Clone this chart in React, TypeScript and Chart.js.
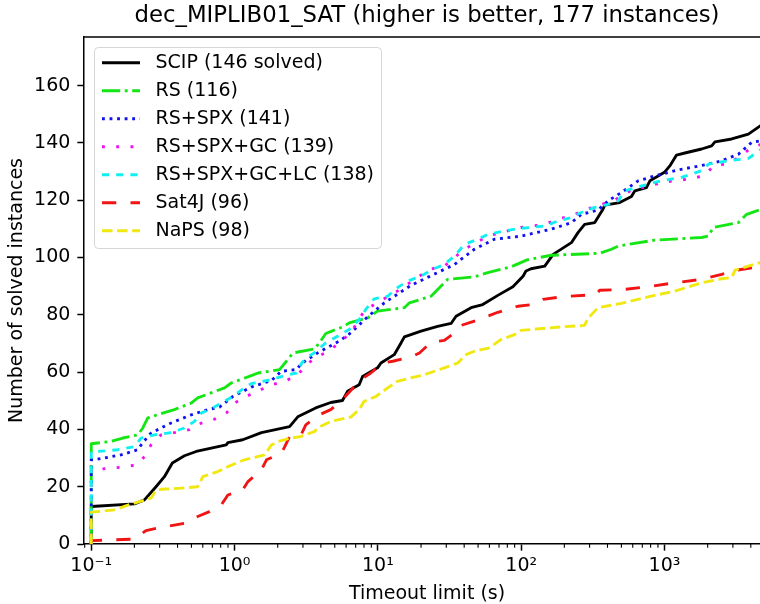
import React, { useEffect, useRef } from 'react';
import { Chart, registerables } from 'chart.js';

Chart.register(...registerables);

const TITLE = 'dec_MIPLIB01_SAT (higher is better, 177 instances)';
const X_LABEL = 'Timeout limit (s)';
const Y_LABEL = 'Number of solved instances';

const X_MIN = 0.089;
const X_MAX = 5445;
const Y_MIN = 0;
const Y_MAX = 177;
const Y_STEP = 20;

const X_MAJOR_TICKS = [0.1, 1, 10, 100, 1000];
const X_TICK_LABELS = ['10⁻¹', '10⁰', '10¹', '10²', '10³'];
const X_MINOR_TICKS = [
  0.09, 0.2, 0.3, 0.4, 0.5, 0.6, 0.7, 0.8, 0.9,
  2, 3, 4, 5, 6, 7, 8, 9,
  20, 30, 40, 50, 60, 70, 80, 90,
  200, 300, 400, 500, 600, 700, 800, 900,
  2000, 3000, 4000, 5000,
];

const SERIES_LABELS = [
  'SCIP (146 solved)',
  'RS (116)',
  'RS+SPX (141)',
  'RS+SPX+GC (139)',
  'RS+SPX+GC+LC (138)',
  'Sat4J (96)',
  'NaPS (98)',
];

// [time limit (s), solved instances]
const SCIP: [number, number][] = [
  [0.1, 0], [0.1, 13.1], [0.2, 14], [0.235, 15.4], [0.283, 20], [0.324, 23.5], [0.368, 28.3],
  [0.447, 30.8], [0.54, 32.3], [0.687, 33.5], [0.875, 34.6], [0.898, 35.4], [1.14, 36.4],
  [1.54, 38.9], [2.42, 41], [2.76, 44.4], [3.68, 47.5], [4.69, 49.4], [5.66, 50.1], [6.14, 53.3],
  [7.4, 55.6], [7.82, 58.5], [9.95, 61.5], [10.5, 63.2], [13, 66.1], [14.5, 70.2], [15.3, 72.3],
  [20, 74.3], [26.1, 76], [32.4, 77], [35.1, 79.5], [44.7, 82.5], [53.9, 83.6], [68.7, 86.8],
  [87.5, 89.8], [103, 93.5], [108, 95.3], [117, 96.1], [146, 97], [167, 101.1], [224, 105.2],
  [249, 108.7], [277, 111.6], [326, 112.2], [372, 116.9], [383, 118.3], [487, 119.2], [588, 121.3],
  [621, 123.3], [748, 124.4], [791, 126.8], [903, 128.5], [1005, 129.9], [1089, 132], [1213, 135.8],
  [1387, 136.5], [1815, 137.9], [2133, 139], [2249, 140.4], [2944, 141.4], [3847, 143.1], [4765, 146.3],
];

const RS: [number, number][] = [
  [0.1, 0], [0.1, 35], [0.137, 35.8], [0.166, 37], [0.211, 38.1], [0.229, 40.5], [0.248, 44],
  [0.315, 45.7], [0.38, 46.9], [0.498, 49.2], [0.553, 51], [0.851, 54.5], [0.948, 56.2], [1.31, 58.8],
  [1.46, 59.7], [2.06, 60.9], [2.3, 63.8], [2.56, 66.7], [3.63, 68.1], [4.0, 71], [4.33, 73.5],
  [5.81, 76], [6.3, 77.2], [8.47, 78.9], [9.95, 81.3], [15.3, 82.5], [16.6, 84.2], [23.5, 86.5],
  [25.5, 88.3], [30.7, 92.4], [47.1, 93.3], [58.5, 94.7], [85.1, 96.8], [110, 99.2], [162, 100.8],
  [353, 101.5], [426, 102.9], [474, 104], [856, 106.1], [1815, 107], [2023, 107.5], [2193, 110.5],
  [3281, 112.2], [3745, 115.1], [4765, 116.9],
];

const RS_SPX: [number, number][] = [
  [0.1, 0], [0.1, 29.4], [0.105, 29.4], [0.161, 31.1], [0.211, 32.9], [0.229, 35.4], [0.261, 38.7],
  [0.351, 42], [0.498, 45.1], [0.65, 46.9], [0.785, 47.8], [0.973, 51.5], [1.31, 54.8], [1.81, 57.1],
  [2.12, 60.3], [2.7, 60.9], [2.93, 63], [3.79, 66.7], [5.36, 70.8], [6.47, 73.7], [8.47, 79.3],
  [11.1, 84.2], [17, 90.3], [29.1, 95.9], [34.2, 97.6], [47.1, 102.9], [65, 106.4], [100, 107.5],
  [162, 109.9], [224, 112.2], [263, 115.1], [344, 116.6], [404, 119.8], [500, 122.7], [655, 126.8],
  [856, 128.5], [1247, 130.6], [2023, 132.6], [2506, 133.8], [3281, 136.1], [4055, 140.2], [4765, 140.8],
];

const RS_SPX_GC: [number, number][] = [
  [0.1, 0], [0.1, 25.9], [0.161, 26.8], [0.206, 27.6], [0.235, 30.5], [0.261, 34.6], [0.307, 38.1],
  [0.38, 38.9], [0.485, 39.9], [0.585, 42.2], [0.725, 43.6], [0.875, 45.7], [1.03, 49.6], [1.24, 51.8],
  [1.81, 55.6], [2.24, 56.8], [2.77, 59.1], [3.17, 62.6], [3.79, 65.5], [4.56, 67.3], [6.47, 73.7],
  [8.02, 81.3], [9.42, 83.6], [13.7, 88.3], [19.5, 93.5], [22.9, 95.9], [29.1, 97], [34.2, 100],
  [40.1, 102.9], [48.4, 105.2], [58.5, 107.5], [89.8, 109.9], [100, 110.5], [146, 111.6], [181, 113.4],
  [224, 114.6], [270, 116.3], [344, 118.3], [426, 119.4], [604, 123.9], [769, 124.8], [953, 126.2],
  [1180, 126.8], [1466, 127.4], [1866, 128.5], [2249, 132.3], [2716, 132.6], [3281, 134.9],
  [4055, 138.4], [4765, 139.6],
];

const RS_SPX_GC_LC: [number, number][] = [
  [0.1, 0], [0.1, 32.3], [0.111, 32.3], [0.153, 32.9], [0.2, 34], [0.223, 37], [0.276, 38.1],
  [0.361, 38.9], [0.447, 40.5], [0.525, 42.8], [0.585, 45.7], [0.705, 47.5], [0.851, 49.8],
  [0.973, 51.5], [1.17, 54.5], [1.31, 56], [1.81, 57.4], [2.24, 58.8], [2.7, 59.7], [2.93, 63],
  [3.17, 65], [3.59, 66.7], [4.33, 70.2], [5.22, 72.5], [6.3, 74.9], [7.4, 78.4], [8.24, 81.9],
  [9.42, 85.6], [11.7, 86.5], [13.7, 89.5], [16.1, 91.8], [20, 93.5], [24.1, 95.9], [29.1, 97.6],
  [34.2, 100.5], [40.1, 104.6], [49.8, 106.4], [58.5, 108.1], [76.4, 109.3], [94.8, 110.1],
  [146, 111], [181, 112.8], [224, 114], [277, 116.3], [326, 117.5], [404, 118.6], [474, 119.8],
  [528, 123.3], [691, 125], [953, 126.8], [1315, 128], [1815, 130.3], [2023, 132.6], [2791, 133.8],
  [3847, 134.6], [4765, 137.9],
];

const SAT4J: [number, number][] = [
  [0.1, 0], [0.1, 1.2], [0.2, 1.7], [0.241, 4.7], [0.307, 5.8], [0.447, 7.2], [0.553, 9.6],
  [0.668, 11.3], [0.807, 13.6], [0.898, 17.1], [1.14, 18.9], [1.24, 21.8], [1.54, 25.9], [1.67, 29.4],
  [2.12, 31.7], [2.24, 34], [2.42, 37.5], [2.89, 37.8], [3.14, 41.6], [3.89, 45.1], [4.69, 46.9],
  [5.66, 50.4], [7.6, 57.4], [8.93, 59.7], [10.8, 63.2], [12.7, 63.8], [17.5, 65.5], [19.5, 66.7],
  [23.5, 70.4], [29.1, 71.1], [34.2, 73.7], [38, 76.3], [52.5, 78.6], [68.7, 80.9], [94.8, 83],
  [121, 83.6], [142, 85.4], [191, 86.3], [334, 87.1], [353, 88.6], [528, 88.9], [769, 89.8],
  [1180, 91.2], [1815, 92.4], [2506, 94.1], [2944, 95.3], [4765, 97],
];

const NAPS: [number, number][] = [
  [0.1, 0], [0.1, 11.1], [0.145, 11.9], [0.18, 13.6], [0.223, 15], [0.261, 16], [0.283, 18.7],
  [0.307, 19.1], [0.424, 19.5], [0.553, 20], [0.6, 23.5], [0.764, 25.3], [0.898, 27], [1.17, 29.4],
  [1.62, 31.1], [1.81, 34.6], [2.01, 35.8], [2.49, 37], [2.89, 37.5], [3.63, 39.3], [3.79, 40.5],
  [4.69, 42.8], [6.47, 44.3], [7.4, 46.9], [8.02, 49.8], [9.68, 51.5], [11.7, 54.5], [13.7, 56.8],
  [16.1, 57.7], [21.1, 59.1], [29.1, 61.5], [36.1, 63.2], [41.2, 66.1], [47.1, 67.3], [60, 68.5],
  [72.4, 71.4], [89.8, 73.1], [100, 74.6], [191, 75.8], [277, 76.3], [293, 78.9], [344, 82.5],
  [500, 84], [769, 86.3], [1180, 88.3], [1815, 91.2], [2506, 92.6], [2944, 93], [3105, 95.6],
  [3847, 97], [4765, 98.4],
];

const SERIES = [SCIP, RS, RS_SPX, RS_SPX_GC, RS_SPX_GC_LC, SAT4J, NAPS];

const COLORS = ['#000000', '#14e614', '#1010f0', '#f010f0', '#10f0f0', '#f01414', '#f0e810'];
const DASHES: number[][] = [
  [],
  [18.2, 4.6, 2.85, 4.6],
  [2.85, 4.7],
  [2.85, 11.4],
  [7.1, 7.1],
  [14.25, 14.25],
  [10.5, 4.6],
];

const FONT = "'DejaVu Sans'";

function roundRectPath(ctx: CanvasRenderingContext2D, x: number, y: number, w: number, h: number, r: number) {
  ctx.beginPath();
  ctx.moveTo(x + r, y);
  ctx.arcTo(x + w, y, x + w, y + h, r);
  ctx.arcTo(x + w, y + h, x, y + h, r);
  ctx.arcTo(x, y + h, x, y, r);
  ctx.arcTo(x, y, x + w, y, r);
  ctx.closePath();
}

const framePlugin = {
  id: 'frameExtras',
  afterDraw(chart: any) {
    const ctx: CanvasRenderingContext2D = chart.ctx;
    const area = chart.chartArea;
    const xs = chart.scales.x;
    ctx.save();
    // top spine
    ctx.strokeStyle = '#000';
    ctx.lineWidth = 1.5;
    ctx.setLineDash([]);
    ctx.beginPath();
    ctx.moveTo(area.left - 0.75, area.top);
    ctx.lineTo(area.right, area.top);
    ctx.stroke();
    // minor ticks on x axis
    ctx.lineWidth = 1.1;
    for (const v of X_MINOR_TICKS) {
      const px = xs.getPixelForValue(v);
      if (px < area.left - 0.5 || px > area.right) continue;
      ctx.beginPath();
      ctx.moveTo(px, area.bottom);
      ctx.lineTo(px, area.bottom + 3.8);
      ctx.stroke();
    }
    // legend
    const lx = 94.5, ly = 47.5, lw = 287, lh = 201;
    roundRectPath(ctx, lx, ly, lw, lh, 4);
    ctx.fillStyle = 'rgba(255,255,255,0.8)';
    ctx.fill();
    ctx.strokeStyle = 'rgba(204,204,204,0.8)';
    ctx.lineWidth = 1;
    ctx.stroke();
    chart.data.datasets.forEach((ds: any, i: number) => {
      const cy = 62.7 + i * 28;
      ctx.beginPath();
      ctx.setLineDash(ds.borderDash || []);
      ctx.lineDashOffset = 0;
      ctx.lineWidth = ds.borderWidth;
      ctx.strokeStyle = ds.borderColor;
      ctx.lineCap = 'butt';
      ctx.moveTo(102, cy);
      ctx.lineTo(140, cy);
      ctx.stroke();
      ctx.setLineDash([]);
      ctx.fillStyle = '#000';
      ctx.font = `19px ${FONT}`;
      ctx.textAlign = 'left';
      ctx.textBaseline = 'middle';
      ctx.fillText(ds.label, 155.5, cy + 0.5);
    });
    ctx.restore();
  },
};

export default function App() {
  const canvasRef = useRef<HTMLCanvasElement | null>(null);

  useEffect(() => {
    if (!canvasRef.current) return;
    Chart.defaults.font.family = FONT;
    Chart.defaults.color = '#000';
    const datasets = SERIES.map((s, i) => ({
      label: SERIES_LABELS[i],
      data: s.map(([x, y]) => ({ x, y })),
      borderColor: COLORS[i],
      backgroundColor: COLORS[i],
      borderWidth: 2.85,
      borderDash: DASHES[i],
      borderJoinStyle: 'round' as const,
      borderCapStyle: 'butt' as const,
      pointRadius: 0,
      pointHoverRadius: 0,
      fill: false,
      tension: 0,
      order: SERIES.length - 1 - i,
    }));

    const chart = new Chart(canvasRef.current, {
      type: 'line',
      data: { datasets },
      options: {
        responsive: false,
        animation: false,
        devicePixelRatio: 1,
        events: [],
        layout: { padding: 0 },
        plugins: {
          legend: { display: false },
          tooltip: { enabled: false },
          title: {
            display: true,
            text: TITLE,
            fullSize: false,
            color: '#000',
            font: { size: 22.8, weight: 'normal', family: FONT, lineHeight: 1.2 },
            padding: { top: 2, bottom: 7.64 },
          },
        },
        scales: {
          x: {
            type: 'logarithmic',
            min: X_MIN,
            max: X_MAX,
            position: 'bottom',
            grid: {
              display: true,
              drawOnChartArea: false,
              drawTicks: true,
              tickLength: 6.65,
              tickWidth: 1.5,
              tickColor: '#000',
            },
            border: { display: true, color: '#000', width: 1.5 },
            ticks: {
              autoSkip: false,
              maxRotation: 0,
              minRotation: 0,
              padding: 4,
              color: '#000',
              font: { size: 19, family: FONT },
              callback: (_v: any, i: number) => X_TICK_LABELS[i],
            },
            afterBuildTicks: (scale: any) => {
              scale.ticks = X_MAJOR_TICKS.map((v) => ({ value: v }));
            },
            afterFit: (scale: any) => {
              scale.height = 60;
            },
            title: {
              display: true,
              text: X_LABEL,
              color: '#000',
              font: { size: 19, family: FONT, lineHeight: 1 },
              padding: { top: 0, bottom: 0.5 },
            },
          },
          y: {
            type: 'linear',
            min: Y_MIN,
            max: Y_MAX,
            grid: {
              display: true,
              drawOnChartArea: false,
              drawTicks: true,
              tickLength: 6.65,
              tickWidth: 1.5,
              tickColor: '#000',
            },
            border: { display: true, color: '#000', width: 1.5 },
            ticks: {
              stepSize: Y_STEP,
              includeBounds: false,
              padding: 7,
              color: '#000',
              font: { size: 19, family: FONT },
            },
            afterFit: (scale: any) => {
              scale.width = 84;
            },
            title: {
              display: true,
              text: Y_LABEL,
              color: '#000',
              font: { size: 19, family: FONT, lineHeight: 1 },
              padding: { top: 7.5, bottom: 0 },
            },
          },
        },
      } as any,
      plugins: [framePlugin],
    });
    return () => chart.destroy();
  }, []);

  return (
    <div style={{ position: 'fixed', left: 0, top: 0, width: 760, height: 604, overflow: 'hidden', background: '#fff' }}>
      <canvas ref={canvasRef} width={770} height={604} style={{ display: 'block', width: 770, height: 604 }} />
    </div>
  );
}
